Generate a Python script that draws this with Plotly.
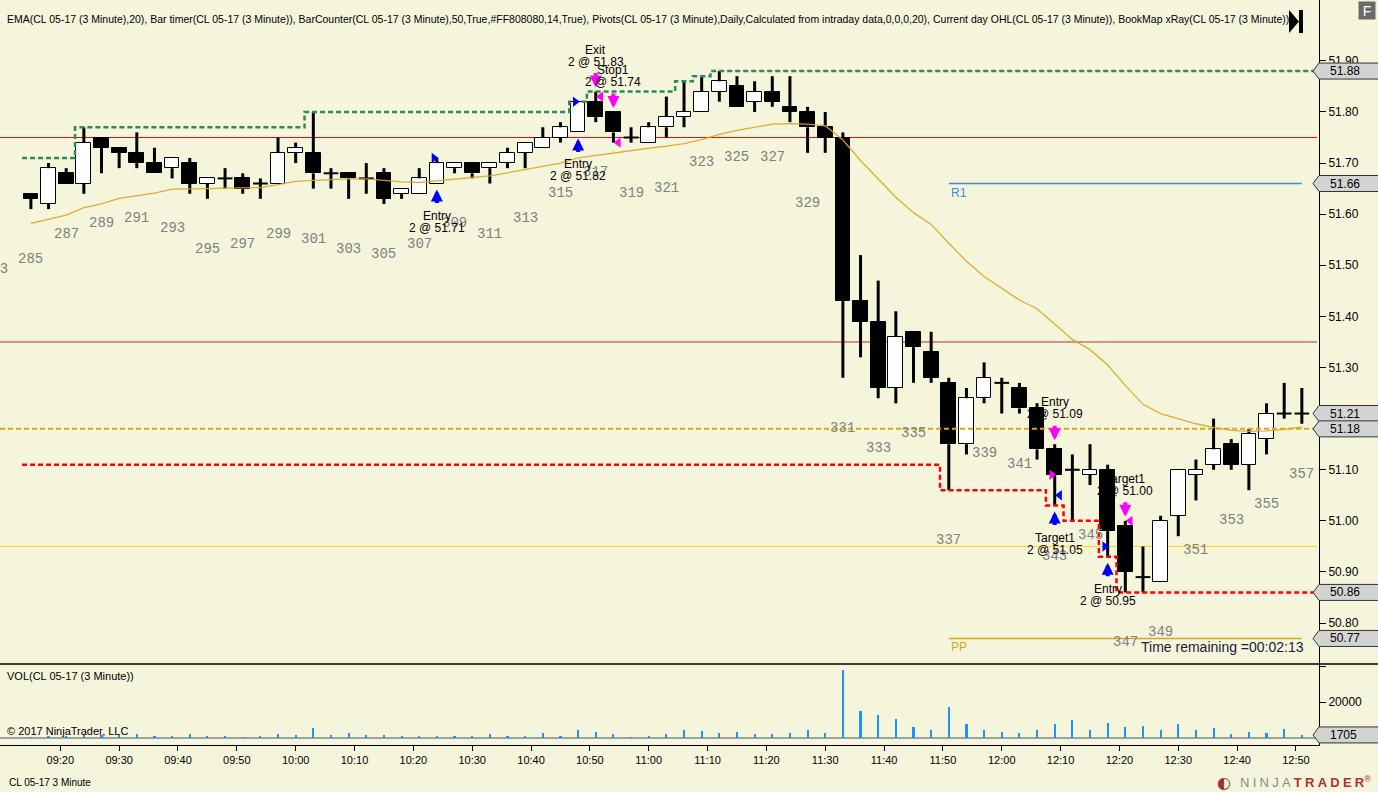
import plotly.graph_objects as go
from datetime import datetime, timedelta

# ---- data ----
first_bar = 285
first_time = datetime(2017, 4, 3, 9, 15)
bar_minutes = 3

opens = [51.64, 51.62, 51.68, 51.66, 51.75, 51.73, 51.72, 51.70, 51.69, 51.70,
         51.66, 51.67, 51.67, 51.66, 51.66, 51.72, 51.72, 51.68, 51.68, 51.67,
         51.68, 51.64, 51.64, 51.66, 51.69, 51.70, 51.69, 51.70, 51.72, 51.73,
         51.75, 51.76, 51.82, 51.80, 51.75, 51.74, 51.77, 51.79, 51.80, 51.84,
         51.85, 51.82, 51.84, 51.81, 51.80, 51.77, 51.75, 51.43, 51.39, 51.26,
         51.37, 51.33, 51.27, 51.15, 51.24, 51.27, 51.26, 51.22, 51.14, 51.10,
         51.09, 51.10, 50.99, 50.89, 50.88, 51.01, 51.09, 51.11, 51.15, 51.11,
         51.16, 51.21, 51.21]
highs = [51.64, 51.70, 51.69, 51.77, 51.75, 51.73, 51.76, 51.73, 51.71, 51.71,
         51.67, 51.69, 51.68, 51.67, 51.75, 51.74, 51.80, 51.69, 51.68, 51.70,
         51.69, 51.65, 51.69, 51.71, 51.70, 51.70, 51.70, 51.73, 51.74, 51.77,
         51.78, 51.82, 51.84, 51.80, 51.77, 51.78, 51.83, 51.86, 51.87, 51.88,
         51.87, 51.86, 51.87, 51.87, 51.81, 51.80, 51.76, 51.52, 51.47, 51.41,
         51.37, 51.37, 51.28, 51.26, 51.31, 51.28, 51.27, 51.23, 51.15, 51.13,
         51.15, 51.11, 51.00, 50.95, 51.01, 51.10, 51.12, 51.20, 51.16, 51.18,
         51.23, 51.27, 51.26]
lows = [51.61, 51.61, 51.66, 51.64, 51.68, 51.69, 51.69, 51.68, 51.67, 51.64,
        51.63, 51.65, 51.64, 51.63, 51.66, 51.70, 51.65, 51.65, 51.63, 51.64,
        51.62, 51.63, 51.64, 51.66, 51.68, 51.67, 51.66, 51.69, 51.69, 51.73,
        51.74, 51.76, 51.78, 51.74, 51.74, 51.74, 51.75, 51.77, 51.80, 51.82,
        51.81, 51.80, 51.81, 51.78, 51.72, 51.72, 51.28, 51.32, 51.24, 51.23,
        51.27, 51.27, 51.06, 51.13, 51.23, 51.21, 51.21, 51.12, 51.03, 51.00,
        51.07, 50.93, 50.86, 50.86, 50.88, 50.97, 51.04, 51.10, 51.10, 51.06,
        51.13, 51.20, 51.19]
closes = [51.63, 51.69, 51.66, 51.74, 51.73, 51.72, 51.70, 51.68, 51.71, 51.66,
          51.67, 51.67, 51.65, 51.66, 51.72, 51.73, 51.68, 51.68, 51.67, 51.67,
          51.63, 51.65, 51.67, 51.70, 51.70, 51.68, 51.70, 51.72, 51.74, 51.75,
          51.77, 51.82, 51.79, 51.76, 51.75, 51.77, 51.79, 51.80, 51.84, 51.86,
          51.81, 51.84, 51.82, 51.80, 51.77, 51.75, 51.43, 51.39, 51.26, 51.36,
          51.34, 51.28, 51.15, 51.24, 51.28, 51.27, 51.22, 51.14, 51.09, 51.10,
          51.10, 50.98, 50.90, 50.89, 51.00, 51.10, 51.10, 51.14, 51.11, 51.17,
          51.21, 51.21, 51.21]
ema20 = [51.582, 51.590, 51.598, 51.613, 51.620, 51.631, 51.636, 51.641, 51.649, 51.649,
         51.650, 51.651, 51.651, 51.652, 51.658, 51.664, 51.666, 51.668, 51.669, 51.669,
         51.666, 51.663, 51.662, 51.665, 51.668, 51.671, 51.675, 51.681, 51.687, 51.693,
         51.700, 51.710, 51.715, 51.720, 51.724, 51.729, 51.733, 51.738, 51.746, 51.756,
         51.764, 51.770, 51.776, 51.777, 51.776, 51.773, 51.745, 51.705, 51.668, 51.633,
         51.603, 51.580, 51.543, 51.508, 51.478, 51.455, 51.432, 51.415, 51.385, 51.355,
         51.335, 51.305, 51.265, 51.228, 51.210, 51.200, 51.190, 51.183, 51.177, 51.175,
         51.176, 51.179, 51.184]
volumes = [550, 1100, 600, 2100, 1800, 1800, 2100, 1300, 700, 2100,
           700, 700, 400, 700, 2100, 1500, 5700, 1500, 2600, 1500,
           1500, 900, 700, 700, 900, 900, 2100, 900, 900, 2600,
           900, 4300, 3200, 2100, 400, 900, 2100, 4300, 3700, 2600,
           3200, 2100, 2100, 2600, 4300, 2600, 37900, 14800, 12600, 10400,
           5900, 4300, 17000, 7600, 4300, 3200, 2600, 4300, 7600, 9800,
           4300, 8200, 5900, 6500, 4300, 7600, 4300, 5400, 2100, 3200,
           2600, 4800, 1705]

prior_high = 51.71
prior_low = 51.11
session_open = 51.18
pivot_r1 = 51.66
pivot_pp = 50.77
pivot_start_bar = 337
levels = [51.75, 51.35, 50.95]
level_colors = ['#E01010', '#B03030', '#FFD700']

trade_bars = [308, 316, 317, 318, 343, 343, 346, 347]
trade_prices = [51.71, 51.82, 51.83, 51.74, 51.09, 51.05, 50.95, 51.00]
trade_names = ['Entry', 'Entry', 'Exit', 'Stop1', 'Entry', 'Target1', 'Entry', 'Target1']
trade_sides = ['buy', 'buy', 'sell', 'sell', 'sell', 'buy', 'buy', 'sell']
trade_qty = 2

timer_text = 'Time remaining =00:02:13'

BG = '#F5F5DC'
FONT = 'Liberation Sans, Arial, sans-serif'

times = [first_time + timedelta(minutes=bar_minutes * i) for i in range(len(opens))]
x_start = datetime(2017, 4, 3, 9, 9, 45)
x_end = datetime(2017, 4, 3, 12, 53, 55)
half = timedelta(seconds=75)

# plot area geometry (pixels)
PW, PH = 1319, 745
split = 664
d0 = (PH - split) / PH
y_min, y_max = 50.720, 52.019
v_min, v_max = -3890, 41110


def px(x):
    return x / PW


def py(y):
    return (PH - y) / PH


def price_paper(p):
    return d0 + (p - y_min) / (y_max - y_min) * (1 - d0)


def vol_paper(v):
    return (v - v_min) / (v_max - v_min) * d0


def label(x, y, text, size=11, color='black', xanchor='left', family=FONT, **kw):
    return dict(xref='paper', yref='paper', x=px(x), y=py(y), text=text, showarrow=False,
                xanchor=xanchor, yanchor='middle',
                font=dict(family=family, size=size, color=color), **kw)


fig = go.Figure()

# volume
fig.add_trace(go.Bar(x=times, y=volumes, yaxis='y2', width=22000,
                     marker=dict(color='#1E90FF', line=dict(width=0)), hoverinfo='skip'))

# candle bodies
body_x, body_base, body_h, body_col = [], [], [], []
for t, o, c in zip(times, opens, closes):
    if round(abs(c - o), 4) == 0:
        continue
    body_x.append(t)
    body_base.append(min(o, c))
    body_h.append(abs(c - o))
    body_col.append('white' if c > o else 'black')
fig.add_trace(go.Bar(x=body_x, y=body_h, base=body_base, width=150000, yaxis='y',
                     marker=dict(color=body_col, line=dict(color='black', width=1)),
                     hoverinfo='skip'))

# wicks
wx, wy = [], []
dx, dy = [], []
for t, o, h, l, c in zip(times, opens, highs, lows, closes):
    top, bot = max(o, c), min(o, c)
    if h > top:
        wx += [t, t, None]
        wy += [h, top, None]
    if l < bot:
        wx += [t, t, None]
        wy += [bot, l, None]
    if round(abs(c - o), 4) == 0:
        dx += [t - half, t + half, None]
        dy += [o, o, None]
fig.add_trace(go.Scatter(x=wx, y=wy, mode='lines', line=dict(color='black', width=3),
                         hoverinfo='skip'))
fig.add_trace(go.Scatter(x=dx, y=dy, mode='lines', line=dict(color='black', width=2),
                         hoverinfo='skip'))

# EMA
fig.add_trace(go.Scatter(x=times, y=ema20, mode='lines',
                         line=dict(color='rgba(218,165,32,0.9)', width=1.3), hoverinfo='skip'))

# current day OHL
hod, lod = [], []
m_hi, m_lo = prior_high, prior_low
for h, l in zip(highs, lows):
    m_hi = max(m_hi, h)
    m_lo = min(m_lo, l)
    hod.append(m_hi)
    lod.append(m_lo)
step_x = [t - timedelta(seconds=90) for t in times] + [x_end]
fig.add_trace(go.Scatter(x=[x_start, x_end], y=[session_open, session_open], mode='lines',
                         line=dict(color='#DAA520', width=2, dash='5px,3px'), hoverinfo='skip'))
fig.add_trace(go.Scatter(x=step_x, y=hod + [hod[-1]], mode='lines', line_shape='hv',
                         line=dict(color='#2E8B57', width=2.5, dash='5px,3px'), hoverinfo='skip'))
fig.add_trace(go.Scatter(x=step_x, y=lod + [lod[-1]], mode='lines', line_shape='hv',
                         line=dict(color='#FF0000', width=2.5, dash='5px,3px'), hoverinfo='skip'))

# pivots
pv_t = [times[pivot_start_bar - first_bar], times[-1]]
fig.add_trace(go.Scatter(x=pv_t, y=[pivot_r1, pivot_r1], mode='lines',
                         line=dict(color='#3C8CDC', width=1.5), hoverinfo='skip'))
fig.add_trace(go.Scatter(x=pv_t, y=[pivot_pp, pivot_pp], mode='lines',
                         line=dict(color='#DAA520', width=1.5), hoverinfo='skip'))

# execution markers
for b, p, name, side in zip(trade_bars, trade_prices, trade_names, trade_sides):
    t = times[b - first_bar]
    col = '#0000FF' if side == 'buy' else '#FF00FF'
    if name == 'Entry':
        fig.add_trace(go.Scatter(x=[t - timedelta(seconds=30)], y=[p], mode='markers',
                                 marker=dict(symbol='triangle-right', size=9, color=col),
                                 hoverinfo='skip'))
    else:
        fig.add_trace(go.Scatter(x=[t + timedelta(seconds=50)], y=[p], mode='markers',
                                 marker=dict(symbol='triangle-left', size=9, color=col),
                                 hoverinfo='skip'))

annotations = []
shapes = []

# horizontal levels
for lv, lc in zip(levels, level_colors):
    shapes.append(dict(type='line', xref='paper', yref='y', x0=0, x1=1317 / PW, y0=lv, y1=lv,
                       line=dict(color=lc, width=1), layer='below'))

# volume zero line
shapes.append(dict(type='line', xref='paper', yref='y2', x0=0, x1=1, y0=0, y1=0,
                   line=dict(color='#A0A0A0', width=2), layer='below'))
# panel separator
shapes.append(dict(type='line', xref='paper', yref='paper', x0=0, x1=1378 / PW,
                   y0=d0, y1=d0, line=dict(color='black', width=1.5)))

# bar numbers
MONO = 'Liberation Mono, Courier New, monospace'
for i, b in enumerate(range(first_bar, first_bar + len(opens))):
    if b % 2 == 1:
        annotations.append(dict(x=times[i], y=lows[i], yshift=-50, text=str(b), showarrow=False,
                                xanchor='center', yanchor='middle',
                                font=dict(family=MONO, size=14, color='#808080')))
annotations.append(label(-4.6, 269, str(first_bar - 2), size=14, color='#808080',
                         xanchor='center', family=MONO))

# trade arrows and labels
for b, p, name, side in zip(trade_bars, trade_prices, trade_names, trade_sides):
    i = b - first_bar
    t = times[i]
    if side == 'buy':
        y0, col, ay, stand, s1, s2 = lows[i], '#0000FF', 21, 6, -32, -44
    else:
        y0, col, ay, stand, s1, s2 = highs[i], '#FF00FF', -20, 4, 42, 30
    annotations.append(dict(x=t, y=y0, ax=0, ay=ay, text='', showarrow=True,
                            arrowhead=2, arrowsize=0.6, arrowwidth=4, standoff=stand,
                            arrowcolor=col))
    annotations.append(dict(x=t, y=y0, yshift=s1, text=name, showarrow=False,
                            xanchor='center', yanchor='middle',
                            font=dict(family=FONT, size=12, color='black')))
    annotations.append(dict(x=t, y=y0, yshift=s2, text=f'{trade_qty} @ {p:.2f}',
                            showarrow=False, xanchor='center', yanchor='middle',
                            font=dict(family=FONT, size=12, color='black')))

# pivot labels
annotations.append(dict(x=pv_t[0], y=pivot_r1, yshift=-9, xanchor='left', yanchor='middle',
                        text='R1', showarrow=False, font=dict(family=FONT, size=12, color='#3C8CDC')))
annotations.append(dict(x=pv_t[0], y=pivot_pp, yshift=-9, xanchor='left', yanchor='middle',
                        text='PP', showarrow=False, font=dict(family=FONT, size=12, color='#DAA520')))


# price markers on the right axis
def axis_box(yc):
    h = 8 / PH
    return (f'M {px(1313)},{yc} L {px(1319)},{yc + h} L {px(1380)},{yc + h} '
            f'L {px(1380)},{yc - h} L {px(1319)},{yc - h} Z')


box_vals = [hod[-1], pivot_r1, closes[-1], session_open, lod[-1], pivot_pp]
box_pos = [price_paper(v) for v in box_vals] + [vol_paper(volumes[-1])]
box_txt = [f'{v:.2f}' for v in box_vals] + [str(volumes[-1])]
for yc, txt in zip(box_pos, box_txt):
    shapes.append(dict(type='path', xref='paper', yref='paper', path=axis_box(yc),
                       fillcolor='#D3D3D3', line=dict(color='#333333', width=1)))
    annotations.append(dict(xref='paper', yref='paper', x=px(1328), y=yc, xanchor='left',
                            yanchor='middle', text=txt, showarrow=False,
                            font=dict(family=FONT, size=12, color='black')))

# texts
annotations.append(label(5, 19, 'EMA(CL 05-17 (3 Minute),20), Bar timer(CL 05-17 (3 Minute)), '
                                'BarCounter(CL 05-17 (3 Minute),50,True,#FF808080,14,True), '
                                'Pivots(CL 05-17 (3 Minute),Daily,Calculated from intraday data,0,0,0,20), '
                                'Current day OHL(CL 05-17 (3 Minute)), BookMap xRay(CL 05-17 (3 Minute))',
                         size=10.5))
annotations.append(label(1306, 647, timer_text, size=14, color='#1A1A3A', xanchor='right'))
annotations.append(label(5, 676, 'VOL(CL 05-17 (3 Minute))'))
annotations.append(label(5, 731, '© 2017 NinjaTrader, LLC'))
annotations.append(label(7, 782, 'CL 05-17 3 Minute', size=10))
annotations.append(label(1224, 782, '◐', size=16, color='#A03030', xanchor='center',
                         family='DejaVu Sans'))
annotations.append(label(1238, 782,
                         '<span style="color:#8A8A8A">N\u2005I\u2005N\u2005J\u2005A\u2005</span>'
                         '<span style="color:#B03030"><b>T\u2005R\u2005A\u2005D\u2005E\u2005R</b></span>'
                         '<span style="color:#B03030"><sup>®</sup></span>', size=13))
annotations.append(label(1367, 11, 'F', size=14, color='white', xanchor='center',
                         bgcolor='#6B6B6B', width=14, height=15))
shapes.append(dict(type='path', xref='paper', yref='paper',
                   path=f'M {px(1289)},{py(10)} L {px(1299)},{py(21.5)} L {px(1289)},{py(33)} Z',
                   fillcolor='black', line=dict(color='black', width=0)))
shapes.append(dict(type='rect', xref='paper', yref='paper', x0=px(1299), x1=px(1303),
                   y0=py(33), y1=py(10), fillcolor='black', line=dict(width=0)))

tick_times = [datetime(2017, 4, 3, 9, 20) + timedelta(minutes=10 * k) for k in range(22)]
price_ticks = [round(50.8 + 0.1 * k, 2) for k in range(12)]

fig.update_layout(
    width=1378, height=792,
    margin=dict(l=0, r=59, t=0, b=47),
    paper_bgcolor=BG, plot_bgcolor=BG,
    showlegend=False, bargap=0,
    annotations=annotations, shapes=shapes,
    xaxis=dict(type='date', range=[x_start, x_end], anchor='y2', tickvals=tick_times,
               tickformat='%H:%M', ticks='outside', ticklen=5, tickcolor='black',
               showline=True, linecolor='black', linewidth=1, showgrid=False, zeroline=False,
               tickfont=dict(family=FONT, size=11, color='black')),
    yaxis=dict(domain=[d0, 1], range=[y_min, y_max], side='right', anchor='x',
               tickvals=price_ticks, ticktext=[f'{v:.2f}' for v in price_ticks],
               ticks='outside', ticklen=6, tickcolor='black', showline=True, linecolor='black',
               showgrid=False, zeroline=False, tickfont=dict(family=FONT, size=12, color='black')),
    yaxis2=dict(domain=[0, d0], range=[v_min, v_max], side='right', anchor='x',
                tickvals=[20000, 40000], ticktext=['20000', ''],
                ticks='outside', ticklen=6, tickcolor='black', showline=True, linecolor='black',
                showgrid=False, zeroline=False, tickfont=dict(family=FONT, size=12, color='black')),
)

# the page's default 8px body margin would shift the whole figure
fig.write_html("out.html", config={'displayModeBar': False},
               post_script="document.body.style.margin='0px';"
                           "document.body.style.overflow='hidden';")
